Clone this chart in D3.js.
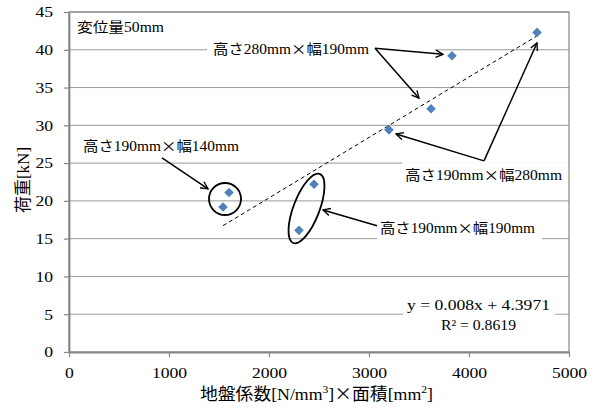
<!DOCTYPE html>
<html>
<head>
<meta charset="utf-8">
<script src="https://cdn.jsdelivr.net/npm/d3@7"></script>
<style>
body { margin: 0; background: #fff; }
</style>
</head>
<body>
<div id="chart"></div>
<script>
// Values
const xValues = [1540, 1600, 2300, 2450, 3200, 3620, 3830, 4680];
const yValues = [19.2, 21.1, 16.1, 22.2, 29.4, 32.2, 39.2, 42.3];
const xTicks = [0, 1000, 2000, 3000, 4000, 5000];
const yTicks = [0, 5, 10, 15, 20, 25, 30, 35, 40, 45];
const trendSlope = 0.008;
const trendIntercept = 4.3971;
const trendText = ["y = 0.008x + 4.3971", "R² = 0.8619"];
const noteText = "変位量50mm";
const groupLabels = ["高さ280mm×幅190mm", "高さ190mm×幅280mm", "高さ190mm×幅140mm", "高さ190mm×幅190mm"];
const xTitle = "地盤係数[N/mm^3]×面積[mm^2]";
const yTitle = "荷重[kN]";

const LATIN = "'Liberation Serif', 'Times New Roman', serif";
const CJKF = "'Noto Sans CJK JP', sans-serif";
const CJK = /[\u3000-\u9fff\u00d7]/;

var margin = {top: 12, right: 26, bottom: 58, left: 69},
    width = 595 - margin.left - margin.right,
    height = 410 - margin.top - margin.bottom;

const svg = d3.select("#chart").append("svg")
    .attr("width", 595)
    .attr("height", 410)
  .append("g")
    .attr("transform", `translate(${margin.left}, ${margin.top})`);

const x = d3.scaleLinear().domain([0, 5000]).range([0, width]);
const y = d3.scaleLinear().domain([0, 45]).range([height, 0]);

// mixed latin / japanese text, "^c" = superscript
function richText(sel, str, size, cjkSize) {
    const runs = [];
    for (let i = 0; i < str.length; i++) {
        let ch = str[i], sup = false;
        if (ch === "^") { sup = true; ch = str[++i]; }
        const cjk = CJK.test(ch);
        const last = runs[runs.length - 1];
        if (last && last.cjk === cjk && last.sup === sup) last.s += ch;
        else runs.push({s: ch, cjk: cjk, sup: sup});
    }
    let shift = 0;
    sel.attr("fill", "#000");
    runs.forEach(r => {
        const target = r.sup ? -size * 0.38 : 0;
        sel.append("tspan")
            .attr("font-family", r.cjk ? CJKF : LATIN)
            .attr("font-size", r.sup ? size * 0.65 : (r.cjk ? cjkSize : size))
            .attr("dy", target - shift)
            .text(r.s);
        shift = target;
    });
    return sel;
}

// gridlines
svg.selectAll(".grid")
    .data(yTicks.slice(1))
    .enter()
    .append("line")
    .attr("x1", 0).attr("x2", width)
    .attr("y1", d => y(d)).attr("y2", d => y(d))
    .attr("stroke", "#9a9a9a")
    .attr("stroke-width", 1);

// plot border
svg.append("rect")
    .attr("width", width).attr("height", height)
    .attr("fill", "none")
    .attr("stroke", "#868686")
    .attr("stroke-width", 1.2);

const boxLayer = svg.append("g");
const markLayer = svg.append("g");
const annoLayer = svg.append("g");

// axes
const yAxis = svg.append("g")
    .call(d3.axisLeft(y).tickValues(yTicks).tickFormat(d3.format("d"))
        .tickSize(5).tickSizeOuter(0).tickPadding(11));
const xAxis = svg.append("g")
    .attr("transform", "translate(0," + height + ")")
    .call(d3.axisBottom(x).tickValues(xTicks).tickFormat(d3.format("d"))
        .tickSize(5).tickSizeOuter(0).tickPadding(10));

[xAxis, yAxis].forEach(ax => {
    ax.select(".domain").attr("stroke", "#868686").attr("stroke-width", 1.8);
    ax.selectAll(".tick line").attr("stroke", "#868686").attr("stroke-width", 1.2);
    ax.selectAll("text")
        .attr("fill", "#000")
        .style("font-family", LATIN)
        .style("font-size", "15px")
        .attr("textLength", d => String(d).length * 8.8)
        .attr("lengthAdjust", "spacingAndGlyphs");
});

// axis titles
richText(svg.append("text")
    .attr("x", 316.5 - margin.left).attr("y", 399.5 - margin.top)
    .attr("text-anchor", "middle")
    .attr("textLength", 233).attr("lengthAdjust", "spacingAndGlyphs"), xTitle, 17, 17);

richText(svg.append("text")
    .attr("transform", `translate(${29 - margin.left}, ${180 - margin.top}) rotate(-90)`)
    .attr("text-anchor", "middle"), yTitle, 17, 17);

// trendline
const trendData = d3.extent(xValues).map(v => ({x: v, y: trendSlope * v + trendIntercept}));
markLayer.append("path")
    .datum(trendData)
    .attr("fill", "none")
    .attr("stroke", "#000")
    .attr("stroke-width", 1)
    .attr("stroke-dasharray", "4,3")
    .attr("d", d3.line().x(d => x(d.x)).y(d => y(d.y)));

// points
markLayer.selectAll(".pt")
    .data(xValues.map((v, i) => ({x: v, y: yValues[i]})))
    .enter()
    .append("path")
    .attr("d", d3.symbol(d3.symbolSquare, 46))
    .attr("transform", d => `translate(${x(d.x)},${y(d.y)}) rotate(45)`)
    .attr("fill", "#4F81BD");

// arrow head
svg.append("defs").append("marker")
    .attr("id", "arrow")
    .attr("viewBox", "0 0 10 10")
    .attr("refX", 9).attr("refY", 5)
    .attr("markerWidth", 9).attr("markerHeight", 9)
    .attr("markerUnits", "userSpaceOnUse")
    .attr("orient", "auto")
  .append("path")
    .attr("d", "M1,1 L9,5 L1,9")
    .attr("fill", "none")
    .attr("stroke", "#000")
    .attr("stroke-width", 1.5);

// annotations (placed in data units)
const notes = [
    {text: groupLabels[0], x: 1440, y: 40.1, len: 156, padL: 6, padR: 66,
     arrows: [[3060, 40.2, 3740, 39.4], [3060, 40.2, 3500, 33.6]]},
    {text: groupLabels[1], x: 3360, y: 23.4, len: 157, padL: 3, padR: 6,
     arrows: [[4150, 25.3, 3270, 28.85], [4150, 25.3, 4680, 40.9]]},
    {text: groupLabels[2], x: 140, y: 27.3, len: 156, padL: 4, padR: 4,
     arrows: [[930, 25.7, 1390, 21.6]]},
    {text: groupLabels[3], x: 3110, y: 16.4, len: 155, padL: 3, padR: 7,
     arrows: [[3080, 16.7, 2540, 18.8]]}
];

notes.forEach(n => {
    boxLayer.append("rect")
        .attr("x", x(n.x) - n.padL)
        .attr("y", y(n.y) - 13)
        .attr("width", n.len + n.padL + n.padR)
        .attr("height", 26)
        .attr("fill", "#fff");
    richText(annoLayer.append("text")
        .attr("x", x(n.x)).attr("y", y(n.y) + 5)
        .attr("textLength", n.len).attr("lengthAdjust", "spacingAndGlyphs"), n.text, 14, 14);
    n.arrows.forEach(a => {
        annoLayer.append("line")
            .attr("x1", x(a[0])).attr("y1", y(a[1]))
            .attr("x2", x(a[2])).attr("y2", y(a[3]))
            .attr("stroke", "#000")
            .attr("stroke-width", 1.5)
            .attr("marker-end", "url(#arrow)");
    });
});

// group outlines
const rings = [
    {cx: 1560, cy: 20.25, rx: 16, ry: 16, angle: 0},
    {cx: 2375, cy: 19.0, rx: 13, ry: 37, angle: 21}
];
annoLayer.selectAll(".ring")
    .data(rings)
    .enter()
    .append("ellipse")
    .attr("transform", d => `translate(${x(d.cx)},${y(d.cy)}) rotate(${d.angle})`)
    .attr("rx", d => d.rx).attr("ry", d => d.ry)
    .attr("fill", "none")
    .attr("stroke", "#000")
    .attr("stroke-width", 1.8);

// displacement note
richText(annoLayer.append("text")
    .attr("x", x(80)).attr("y", 32 - margin.top)
    .attr("textLength", 87).attr("lengthAdjust", "spacingAndGlyphs"), noteText, 14, 14);

// trendline equation
const eqX = x(4095);
boxLayer.append("rect")
    .attr("x", eqX - 75.5).attr("y", y(6.2) - 11)
    .attr("width", 152).attr("height", 36)
    .attr("fill", "#fff");
[[trendText[0], 6.2, 143], [trendText[1], 3.6, 75]].forEach(t => {
    annoLayer.append("text")
        .attr("x", eqX).attr("y", y(t[1]) + 5)
        .attr("text-anchor", "middle")
        .attr("fill", "#000")
        .attr("font-family", LATIN)
        .attr("font-size", 15)
        .attr("textLength", t[2]).attr("lengthAdjust", "spacingAndGlyphs")
        .text(t[0]);
});
</script>
</body>
</html>
